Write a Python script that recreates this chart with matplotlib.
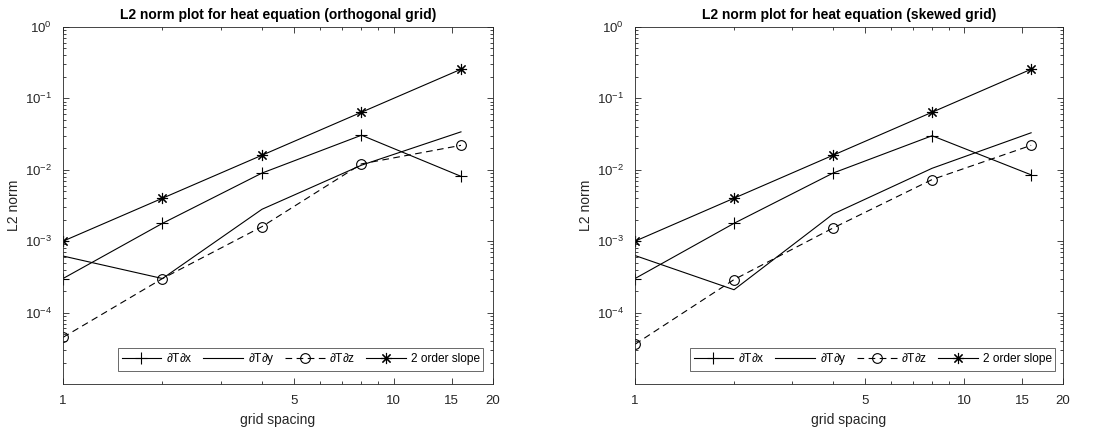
import numpy as np
import matplotlib
matplotlib.use("Agg")
import matplotlib.pyplot as plt
from matplotlib.ticker import FixedLocator, NullFormatter, LogLocator

plt.rcParams['font.family'] = ['Liberation Sans', 'DejaVu Sans']
plt.rcParams['mathtext.fontset'] = 'custom'
plt.rcParams['mathtext.it'] = 'Liberation Sans:italic'
plt.rcParams['mathtext.rm'] = 'Liberation Sans'

grid_spacing = [1, 2, 4, 8, 16]

# Orthogonal grid
ortho_dx = [3.0e-4, 1.78e-3, 9.0e-3, 3.05e-2, 8.1e-3]
ortho_dy = [6.2e-4, 3.0e-4, 2.8e-3, 1.16e-2, 3.4e-2]
ortho_dz = [4.5e-5, 3.0e-4, 1.6e-3, 1.21e-2, 2.2e-2]

# Skewed grid
skew_dx = [3.0e-4, 1.78e-3, 9.0e-3, 3.0e-2, 8.5e-3]
skew_dy = [6.3e-4, 2.09e-4, 2.4e-3, 1.05e-2, 3.3e-2]
skew_dz = [3.6e-5, 2.9e-4, 1.53e-3, 7.3e-3, 2.2e-2]

slope = [1e-3, 4e-3, 1.6e-2, 6.4e-2, 2.56e-1]

titles = ["L2 norm plot for heat equation (orthogonal grid)",
          "L2 norm plot for heat equation (skewed grid)"]
labels = [r"$\partial$T$\partial$x", r"$\partial$T$\partial$y",
          r"$\partial$T$\partial$z", "2 order slope"]
xtick_vals = [1, 5, 10, 15, 20]
xtick_labels = ["1", "5", "10", "15", "20"]
ytick_vals = [1e-4, 1e-3, 1e-2, 1e-1, 1e0]
ytick_labels = [r"10$^{\mathregular{-4}}$", r"10$^{\mathregular{-3}}$",
                r"10$^{\mathregular{-2}}$", r"10$^{\mathregular{-1}}$",
                r"10$^{\mathregular{0}}$"]

W, H = 1102, 429
fig = plt.figure(figsize=(W / 100, H / 100), dpi=100)

axpos = [(63, 27, 430, 357), (635, 27, 428, 357)]
datasets = [(ortho_dx, ortho_dy, ortho_dz), (skew_dx, skew_dy, skew_dz)]
axc = '0.15'

for (l, t, w, h), (dx, dy, dz), title in zip(axpos, datasets, titles):
    ax = fig.add_axes([l / W, 1 - (t + h) / H, w / W, h / H])
    ax.plot(grid_spacing, dx, color='k', lw=0.8, marker='+', ms=8, mew=0.8, label=labels[0])
    ax.plot(grid_spacing, dy, color='k', lw=0.8, label=labels[1])
    ax.plot(grid_spacing, dz, color='k', lw=0.8, ls=(0, (6, 4)), marker='o', ms=7,
            mfc='none', mew=0.8, label=labels[2])
    ax.plot(grid_spacing, slope, color='k', lw=0.8, marker=(8, 2, 0), ms=8, mew=0.8,
            label=labels[3])
    ax.set_xscale('log')
    ax.set_yscale('log')
    ax.set_xlim(1, 20)
    ax.set_ylim(1e-5, 1)
    ax.xaxis.set_major_locator(FixedLocator(xtick_vals))
    ax.set_xticklabels(xtick_labels)
    ax.xaxis.set_minor_locator(FixedLocator([2, 3, 4, 6, 7, 8, 9]))
    ax.xaxis.set_minor_formatter(NullFormatter())
    ax.yaxis.set_major_locator(FixedLocator(ytick_vals))
    ax.set_yticklabels(ytick_labels)
    ax.yaxis.set_minor_locator(LogLocator(base=10, subs=np.arange(2, 10), numticks=20))
    ax.yaxis.set_minor_formatter(NullFormatter())
    ax.tick_params(which='both', direction='in', top=True, right=True,
                   colors=axc, labelsize=9.5, width=0.6)
    ax.tick_params(which='major', length=4.5, pad=8)
    ax.tick_params(which='minor', length=2.5)
    for s in ax.spines.values():
        s.set_color(axc)
        s.set_linewidth(0.6)
    ax.set_title(title, fontsize=10, fontweight='bold', pad=6)
    ax.set_xlabel("grid spacing", fontsize=10, color=axc, labelpad=4)
    ax.set_ylabel("L2 norm", fontsize=10, color=axc, labelpad=3)
    leg = ax.legend(ncol=4, loc='lower left', bbox_to_anchor=(55 / w, 13 / h),
                    fontsize=8.6, frameon=True, fancybox=False, handlelength=3.3,
                    columnspacing=0.9, handletextpad=0.4, borderpad=0.3,
                    borderaxespad=0)
    leg.get_frame().set_edgecolor(axc)
    leg.get_frame().set_linewidth(0.6)

fig.savefig("out.png", dpi=100)
